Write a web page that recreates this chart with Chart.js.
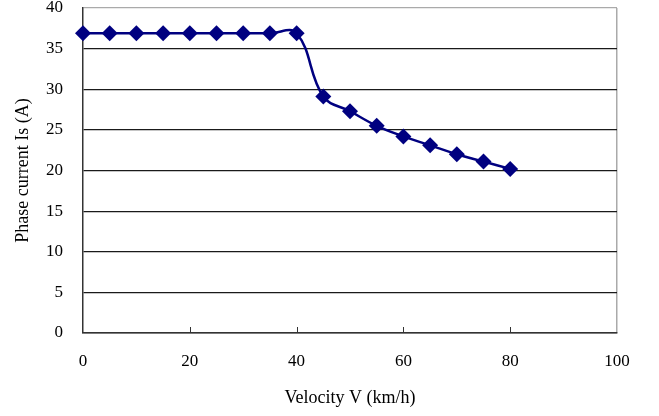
<!DOCTYPE html>
<html>
<head>
<meta charset="utf-8">
<script src="https://cdn.jsdelivr.net/npm/chart.js@4/dist/chart.umd.min.js"></script>
<style>
html,body{margin:0;padding:0;background:#fff;}
#wrap{width:659px;height:416px;}
</style>
</head>
<body>
<div id="wrap"><canvas id="c" width="659" height="416"></canvas></div>
<script>
const velocity = [0, 5, 10, 15, 20, 25, 30, 35, 40, 45, 50, 55, 60, 65, 70, 75, 80];
const current = [36.9, 36.9, 36.9, 36.9, 36.9, 36.9, 36.9, 36.9, 36.9, 29.1, 27.3, 25.5, 24.2, 23.1, 22.0, 21.1, 20.2];
const xTicks = [0, 20, 40, 60, 80, 100];
const yTicks = [0, 5, 10, 15, 20, 25, 30, 35, 40];
const xTitle = 'Velocity V (km/h)';
const yTitle = 'Phase current Is (A)';

const fam = '"Liberation Serif", "Times New Roman", serif';
const tickFont = {family: fam, size: 17};
const titleFont = {family: fam, size: 18};

const innerTicks = {
  id: 'innerTicks',
  afterDatasetsDraw(chart) {
    const x = chart.scales.x, ctx = chart.ctx, a = chart.chartArea;
    ctx.save();
    ctx.strokeStyle = '#333';
    ctx.lineWidth = 1;
    xTicks.slice(1, -1).forEach(v => {
      const px = Math.round(x.getPixelForValue(v)) + 0.5;
      ctx.beginPath();
      ctx.moveTo(px, a.bottom);
      ctx.lineTo(px, a.bottom - 6);
      ctx.stroke();
    });
    ctx.restore();
  }
};

new Chart(document.getElementById('c'), {
  type: 'line',
  data: {
    datasets: [{
      data: velocity.map((v, i) => ({x: v, y: current[i]})),
      borderColor: '#000080',
      backgroundColor: '#000080',
      borderWidth: 2.5,
      tension: 0.4,
      pointStyle: 'rectRot',
      pointRadius: 8,
      pointHoverRadius: 8,
      pointBorderWidth: 0,
      clip: false
    }]
  },
  options: {
    responsive: false,
    animation: false,
    layout: {padding: {top: 7, right: 42, left: 0, bottom: 0}},
    plugins: {legend: {display: false}, tooltip: {enabled: false}},
    scales: {
      x: {
        type: 'linear',
        min: 0, max: 100,
        afterBuildTicks: s => { s.ticks = xTicks.map(v => ({value: v})); },
        afterFit: s => { s.height = 83; s.paddingLeft = 0; s.paddingRight = 0; },
        ticks: {font: tickFont, color: '#000', padding: 18, maxRotation: 0},
        grid: {
          drawTicks: false,
          color: c => (c.tick && c.tick.value === 100) ? '#aaaaaa' : 'rgba(0,0,0,0)',
          lineWidth: 1.5
        },
        border: {color: '#333', width: 1.5},
        title: {display: true, text: xTitle, font: titleFont, color: '#000', padding: {top: 0, bottom: 7}}
      },
      y: {
        type: 'linear',
        min: 0, max: 40,
        afterBuildTicks: s => { s.ticks = yTicks.map(v => ({value: v})); },
        afterFit: s => { s.width = 83; s.paddingTop = 0; s.paddingBottom = 0; },
        ticks: {font: tickFont, color: '#000', padding: 20},
        grid: {
          drawTicks: false,
          color: c => (c.tick && c.tick.value === 40) ? '#aaaaaa' : '#1a1a1a',
          lineWidth: 1.2
        },
        border: {color: '#333', width: 1.5},
        title: {display: true, text: yTitle, font: titleFont, color: '#000', padding: {top: 12, bottom: 0}}
      }
    }
  },
  plugins: [innerTicks]
});
</script>
</body>
</html>
